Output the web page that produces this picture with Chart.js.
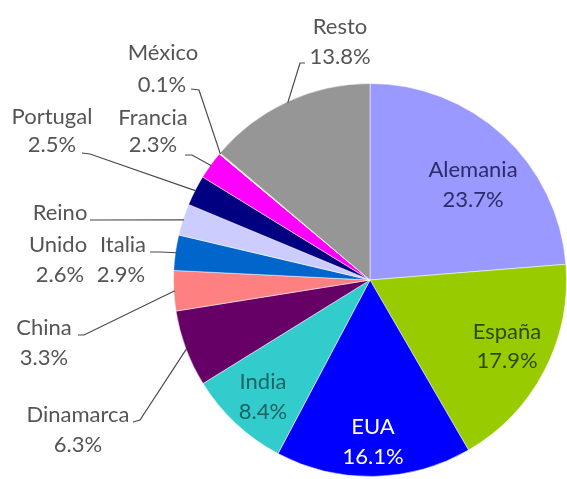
<!DOCTYPE html>
<html><head><meta charset="utf-8">
<script src="https://cdn.jsdelivr.net/npm/chart.js@4"></script>
<style>html,body{margin:0;padding:0;background:#fff;}#wrap{width:567px;height:479px;position:relative;}</style>
</head><body><div id="wrap"><canvas id="c" width="567" height="479"></canvas></div>
<script>
const categories = ["Alemania","España","EUA","India","Dinamarca","China","Italia","Reino Unido","Portugal","Francia","México","Resto"];
const values = [23.7,17.9,16.1,8.4,6.3,3.3,2.9,2.6,2.5,2.3,0.1,13.8];
const colors = ["#9999ff","#99cc00","#0000ff","#33cccc","#660066","#ff8080","#0066cc","#ccccff","#000080","#ff00ff","#ffff99","#969696"];
const nameLines = [["Alemania"],["España"],["EUA"],["India"],["Dinamarca"],["China"],["Italia"],["Reino","Unido"],["Portugal"],["Francia"],["México"],["Resto"]];

// label layout: text line centres, text colour, leader path (text side)
const labelLayout = [
  {pos:[[473,170],[473,200]], color:"#2b2b66"},
  {pos:[[507,332],[507,361]], color:"#2f4a00"},
  {pos:[[373,427],[373,457]], color:"#ffffff"},
  {pos:[[263,382],[263,412]], color:"#1d6363"},
  {pos:[[78,415],[78,445]], color:"#555555", lead:[[133,422],[140,420]]},
  {pos:[[44,328],[44,358]], color:"#555555", lead:[[78,335],[84,335]]},
  {pos:[[123,245],[121,275]], color:"#555555", lead:[[150,252],[160,252]]},
  {pos:[[60,213],[58,245],[60,275]], color:"#555555", lead:[[90,220]]},
  {pos:[[52,117],[52,145]], color:"#555555", lead:[[82,153],[90,154]]},
  {pos:[[153,118],[153,145]], color:"#555555", lead:[[185,155],[192,155]]},
  {pos:[[163,53],[162,85]], color:"#555555", lead:[[191,89],[199,90]]},
  {pos:[[340,27],[340,57]], color:"#555555", lead:[[305,63],[300,63]]}
];

const labelPlugin = {
  id: 'pieLabels',
  afterDatasetsDraw(chart) {
    const ctx = chart.ctx;
    const meta = chart.getDatasetMeta(0);
    ctx.save();
    meta.data.forEach((arc, i) => {
      const L = labelLayout[i];
      const p = arc.getProps(['x','y','startAngle','endAngle','outerRadius'], true);
      if (L.lead) {
        const mid = (p.startAngle + p.endAngle) / 2;
        const ex = p.x + Math.cos(mid) * (p.outerRadius - 1);
        const ey = p.y + Math.sin(mid) * (p.outerRadius - 1);
        ctx.beginPath();
        ctx.strokeStyle = "#4a4a4a";
        ctx.lineWidth = 1.2;
        ctx.moveTo(L.lead[0][0], L.lead[0][1]);
        for (let k = 1; k < L.lead.length; k++) ctx.lineTo(L.lead[k][0], L.lead[k][1]);
        ctx.lineTo(ex, ey);
        ctx.stroke();
      }
      const lines = nameLines[i].concat([values[i].toFixed(1) + "%"]);
      ctx.fillStyle = L.color;
      ctx.font = "22px Lato";
      ctx.textAlign = "center";
      ctx.textBaseline = "middle";
      lines.forEach((t, k) => ctx.fillText(t, L.pos[k][0], L.pos[k][1]));
    });
    ctx.restore();
  }
};

new Chart(document.getElementById('c'), {
  type: 'pie',
  data: {
    labels: categories,
    datasets: [{
      data: values,
      backgroundColor: colors,
      borderColor: "rgba(255,255,255,0.5)",
      borderWidth: 1
    }]
  },
  options: {
    responsive: false,
    animation: false,
    layout: { padding: { left: 173, right: 0, top: 83, bottom: 2 } },
    plugins: { legend: { display: false }, tooltip: { enabled: false } }
  },
  plugins: [labelPlugin]
});
</script></body></html>
